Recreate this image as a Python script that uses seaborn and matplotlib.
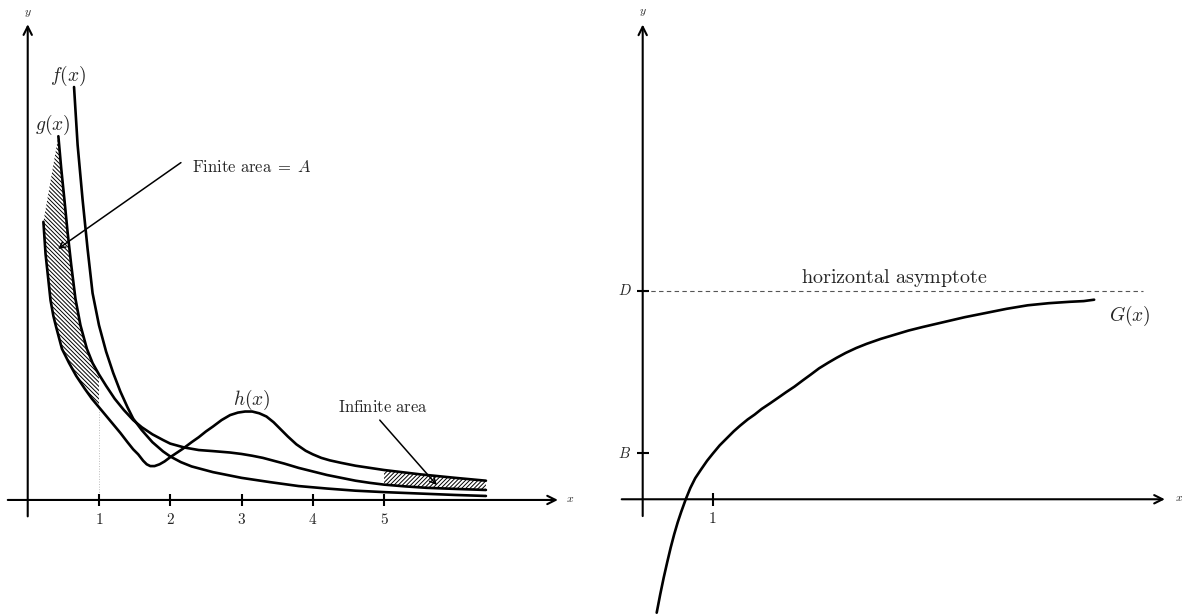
import pandas as pd
import matplotlib.pyplot as plt
import seaborn as sns

# ---- left panel: curves ----
f_x = [0.65, 0.70, 0.77, 0.84, 0.91, 1.0, 1.1, 1.2, 1.3, 1.4, 1.48, 1.6, 1.75, 1.9, 2.0, 2.15,
       2.3, 2.6, 3.0, 3.4, 3.8, 4.2, 4.6, 5.0, 5.5, 6.0, 6.43]
f_y = [5.79, 4.98, 4.21, 3.52, 2.90, 2.45, 2.08, 1.78, 1.52, 1.30, 1.14, 0.98, 0.81, 0.68, 0.61, 0.53,
       0.47, 0.39, 0.31, 0.25, 0.195, 0.16, 0.13, 0.11, 0.09, 0.07, 0.056]

g_x = [0.43, 0.47, 0.515, 0.56, 0.61, 0.67, 0.74, 0.83, 0.91, 1.0, 1.1, 1.22, 1.35, 1.48, 1.6,
       1.75, 1.9, 2.0, 2.2, 2.4, 2.6, 2.84, 3.0, 3.15, 3.3, 3.45, 3.6, 3.8, 4.0, 4.2, 4.4,
       4.6, 4.8, 5.0, 5.3, 5.6, 6.0, 6.43]
g_y = [5.10, 4.65, 4.21, 3.75, 3.30, 2.82, 2.45, 2.12, 1.92, 1.76, 1.60, 1.42, 1.26, 1.12, 1.02,
       0.92, 0.84, 0.79, 0.735, 0.70, 0.685, 0.665, 0.645, 0.62, 0.59, 0.55, 0.51, 0.45, 0.40, 0.35, 0.31,
       0.27, 0.24, 0.215, 0.19, 0.17, 0.155, 0.14]

h_x = [0.22, 0.25, 0.29, 0.32, 0.36, 0.40, 0.48, 0.58, 0.68, 0.80, 0.90, 1.0, 1.1, 1.2, 1.3, 1.4,
       1.48, 1.55, 1.62, 1.67, 1.72, 1.78, 1.85, 1.92, 2.0, 2.09, 2.18, 2.3, 2.4, 2.5, 2.6, 2.72,
       2.84, 2.95, 3.05, 3.15, 3.25, 3.35, 3.45, 3.54, 3.65, 3.77, 3.9, 4.0, 4.12, 4.24, 4.4,
       4.6, 5.0, 5.5, 6.0, 6.43]
h_y = [3.90, 3.45, 3.08, 2.80, 2.58, 2.42, 2.12, 1.92, 1.74, 1.56, 1.42, 1.30, 1.18, 1.06, 0.94, 0.81,
       0.71, 0.64, 0.55, 0.50, 0.475, 0.475, 0.50, 0.54, 0.60, 0.66, 0.72, 0.81, 0.88, 0.96, 1.03, 1.12,
       1.19, 1.225, 1.24, 1.24, 1.215, 1.17, 1.09, 1.00, 0.89, 0.78, 0.69, 0.64, 0.59, 0.555, 0.52,
       0.48, 0.42, 0.36, 0.31, 0.27]

left_ticks = [1, 2, 3, 4, 5]
finite_end = 1.0      # finite area between g and h up to x = 1
infinite_start = 5.0  # infinite area between h and g from x = 5

# ---- right panel ----
G_x = [0.20, 0.25, 0.30, 0.35, 0.40, 0.45, 0.50, 0.55, 0.615, 0.68, 0.75, 0.83, 0.92, 1.0, 1.1,
       1.2, 1.3, 1.39, 1.5, 1.6, 1.7, 1.82, 1.95, 2.05, 2.17, 2.29, 2.4, 2.52, 2.65, 2.77, 2.9,
       3.05, 3.2, 3.4, 3.6, 3.8, 4.0, 4.3, 4.6, 4.9, 5.2, 5.5, 5.8, 6.1, 6.3, 6.45]
G_y = [-1.62, -1.36, -1.12, -0.90, -0.69, -0.50, -0.33, -0.18, 0.0, 0.16, 0.30, 0.42, 0.55, 0.65, 0.77,
       0.87, 0.97, 1.05, 1.14, 1.21, 1.29, 1.37, 1.46, 1.53, 1.61, 1.70, 1.78, 1.87, 1.95, 2.02, 2.09,
       2.16, 2.22, 2.29, 2.35, 2.41, 2.46, 2.53, 2.60, 2.66, 2.72, 2.77, 2.80, 2.82, 2.83, 2.85]
D_level = 2.98
B_level = 0.66
right_ticks = [1]

sns.set_theme(style="white")
plt.rcParams["mathtext.fontset"] = "cm"
plt.rcParams["font.family"] = ["DejaVu Serif"]
plt.rcParams["hatch.linewidth"] = 0.7

fig = plt.figure(figsize=(11.82, 6.16), dpi=100)
ax1 = fig.add_axes([0, 0, 580 / 1182, 1])
ax2 = fig.add_axes([600 / 1182, 0, 582 / 1182, 1])

LW = 1.9
AX_LW = 1.5


def draw_axes(ax, x0, x1, y0, y1):
    ax.annotate("", xy=(x1, 0), xytext=(x0, 0),
                arrowprops=dict(arrowstyle="->,head_length=0.5,head_width=0.25",
                                lw=AX_LW, color="black", shrinkA=0, shrinkB=0))
    ax.annotate("", xy=(0, y1), xytext=(0, y0),
                arrowprops=dict(arrowstyle="->,head_length=0.5,head_width=0.25",
                                lw=AX_LW, color="black", shrinkA=0, shrinkB=0))


# ================= LEFT =================
ax1.set_xlim(-0.389, 7.75)
ax1.set_ylim(-1.627, 7.01)

# hatched regions
fin_g = [(x, y) for x, y in zip(g_x, g_y) if x <= finite_end]
fin_h = [(x, y) for x, y in zip(h_x, h_y) if x <= finite_end]
poly = fin_g + fin_h[::-1]
ax1.fill([p[0] for p in poly], [p[1] for p in poly], facecolor="none",
         edgecolor="black", hatch="\\\\\\\\\\\\\\\\", linewidth=0)

inf_h = [(x, y) for x, y in zip(h_x, h_y) if x >= infinite_start]
inf_g = [(x, y) for x, y in zip(g_x, g_y) if x >= infinite_start]
poly = inf_h + inf_g[::-1]
ax1.fill([p[0] for p in poly], [p[1] for p in poly], facecolor="none",
         edgecolor="black", hatch="////////", linewidth=0)

# dotted marker at x = 1
h_at_1 = h_y[h_x.index(finite_end)]
ax1.plot([finite_end, finite_end], [0, h_at_1], color="#bbbbbb", lw=0.7, ls=":")

curves = pd.concat([
    pd.DataFrame({"x": f_x, "y": f_y, "curve": "f"}),
    pd.DataFrame({"x": g_x, "y": g_y, "curve": "g"}),
    pd.DataFrame({"x": h_x, "y": h_y, "curve": "h"}),
])
sns.lineplot(data=curves, x="x", y="y", units="curve", estimator=None, sort=False,
             color="black", lw=LW, ax=ax1, legend=False)

draw_axes(ax1, -0.28, 7.44, -0.23, 6.67)
ax1.vlines(left_ticks, -0.08, 0.08, color="black", lw=AX_LW)
for t in left_ticks:
    ax1.text(t, -0.27, f"${t}$", ha="center", va="center", fontsize=11)
ax1.text(7.55, 0.02, "$x$", ha="left", va="center", fontsize=8.5)
ax1.text(0, 6.84, "$y$", ha="center", va="center", fontsize=8.5)

ax1.text(0.565, 5.95, "$f(x)$", ha="center", va="center", fontsize=14)
ax1.text(0.35, 5.26, "$g(x)$", ha="center", va="center", fontsize=14)
ax1.text(3.15, 1.40, "$h(x)$", ha="center", va="center", fontsize=14)

ax1.text(2.30, 4.66, r"$\mathrm{Finite\ area}\;=\;A$", ha="left", va="center", fontsize=12)
ax1.annotate("", xy=(0.425, 3.52), xytext=(2.15, 4.73),
             arrowprops=dict(arrowstyle="->,head_length=0.35,head_width=0.18",
                             lw=1.1, color="black", shrinkA=0, shrinkB=0))
ax1.text(4.98, 1.29, r"$\mathrm{Infinite\ area}$", ha="center", va="center", fontsize=12)
ax1.annotate("", xy=(5.74, 0.21), xytext=(4.94, 1.12),
             arrowprops=dict(arrowstyle="->,head_length=0.35,head_width=0.18",
                             lw=1.1, color="black", shrinkA=0, shrinkB=0))

# ================= RIGHT =================
ax2.set_xlim(-0.61, 7.705)
ax2.set_ylim(-1.667, 7.13)

ax2.plot([0, 7.15], [D_level, D_level], color="#555555", lw=0.8, ls=(0, (4, 3)))
sns.lineplot(x=G_x, y=G_y, sort=False, color="black", lw=LW, ax=ax2)

draw_axes(ax2, -0.30, 7.46, -0.24, 6.78)
ax2.vlines(right_ticks, -0.09, 0.09, color="black", lw=AX_LW)
ax2.hlines([D_level, B_level], -0.085, 0.085, color="black", lw=AX_LW)
ax2.text(1, -0.28, "$1$", ha="center", va="center", fontsize=11)
ax2.text(-0.16, D_level, "$D$", ha="right", va="center", fontsize=10.5)
ax2.text(-0.16, B_level, "$B$", ha="right", va="center", fontsize=10.5)
ax2.text(7.6, 0.02, "$x$", ha="left", va="center", fontsize=8.5)
ax2.text(0, 6.96, "$y$", ha="center", va="center", fontsize=8.5)
ax2.text(3.59, D_level + 0.02, r"$\mathrm{horizontal\ asymptote}$", ha="center",
         va="bottom", fontsize=14.5)
ax2.text(6.96, 2.62, "$G(x)$", ha="center", va="center", fontsize=14)

for ax in (ax1, ax2):
    ax.set_axis_off()

fig.savefig("out.png", dpi=100)
